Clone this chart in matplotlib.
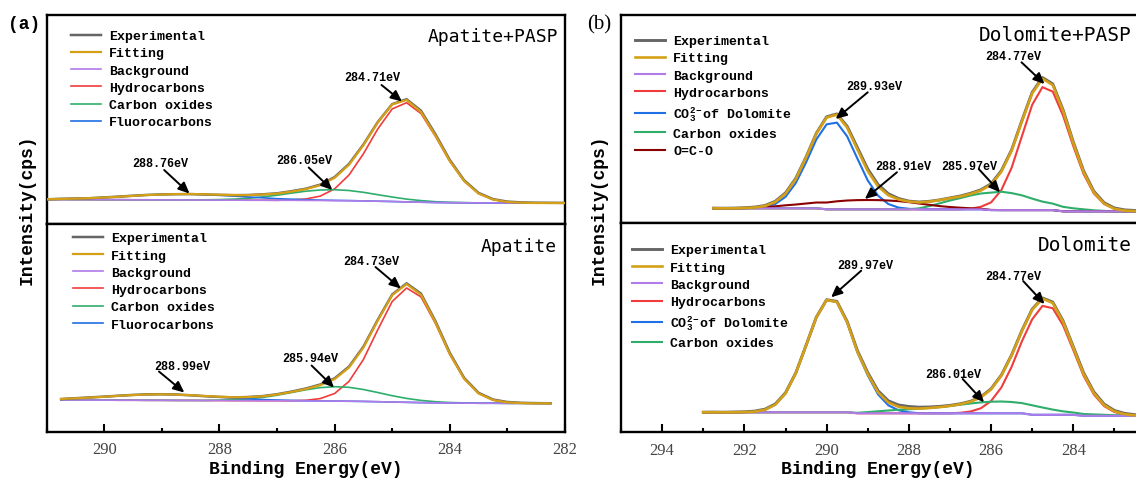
import numpy as np
import matplotlib
matplotlib.use("Agg")
import matplotlib.pyplot as plt
from matplotlib.ticker import MultipleLocator

plt.rcParams['font.family'] = ['Liberation Mono', 'DejaVu Sans']
plt.rcParams['mathtext.fontset'] = 'custom'
plt.rcParams['mathtext.rm'] = 'Liberation Mono:bold'
plt.rcParams['mathtext.it'] = 'Liberation Mono:bold'
plt.rcParams['mathtext.bf'] = 'Liberation Mono:bold'

# ---- (a) Apatite + PASP ----
E_a1 = [291.0, 290.75, 290.5, 290.25, 290.0, 289.75, 289.5, 289.25, 289.0, 288.75,
        288.5, 288.25, 288.0, 287.75, 287.5, 287.25, 287.0, 286.75, 286.5, 286.25,
        286.0, 285.75, 285.5, 285.25, 285.0, 284.75, 284.5, 284.25, 284.0, 283.75,
        283.5, 283.25, 283.0, 282.75, 282.5, 282.25, 282.0]
exp_a1 = [24.2, 24.7, 25.0, 25.3, 26.1, 26.9, 27.8, 28.6, 29.1, 29.3,
          29.4, 29.0, 28.6, 28.3, 28.5, 29.2, 30.2, 32.3, 34.8, 38.9,
          46.4, 59.6, 79.0, 101.5, 119.4, 124.3, 112.8, 89.4, 63.6, 43.2,
          30.6, 24.4, 21.9, 21.1, 20.8, 20.7, 20.6]
fit_a1 = [24.3, 24.6, 24.9, 25.4, 26.0, 26.8, 27.6, 28.5, 29.0, 29.4,
          29.5, 29.2, 28.8, 28.5, 28.4, 29.0, 29.9, 31.9, 34.4, 38.3,
          45.7, 58.8, 78.3, 101.1, 119.1, 123.6, 111.6, 88.1, 62.6, 42.5,
          30.0, 24.0, 21.5, 20.8, 20.5, 20.5, 20.5]
bg_a1 = [24.0, 24.0, 23.9, 23.9, 23.8, 23.8, 23.7, 23.7, 23.6, 23.6,
         23.5, 23.5, 23.4, 23.4, 23.3, 23.3, 23.2, 23.2, 23.1, 23.0,
         22.9, 22.8, 22.6, 22.3, 22.0, 21.6, 21.3, 21.0, 20.8, 20.7,
         20.6, 20.6, 20.5, 20.5, 20.5, 20.5, 20.5]
hyd_a1 = [24.0, 24.0, 23.9, 23.9, 23.8, 23.8, 23.7, 23.7, 23.6, 23.6,
          23.5, 23.5, 23.4, 23.4, 23.3, 23.3, 23.2, 23.6, 24.5, 27.4,
          34.6, 48.5, 69.7, 94.6, 114.6, 120.8, 110.0, 87.3, 62.2, 42.3,
          30.0, 24.0, 21.5, 20.8, 20.5, 20.5, 20.5]
co_a1 = [24.0, 24.0, 23.9, 23.9, 23.8, 23.8, 23.7, 23.7, 23.6, 23.6,
         23.6, 23.7, 23.9, 24.4, 25.2, 26.6, 28.3, 30.4, 32.3, 33.5,
         33.8, 33.0, 31.2, 28.8, 26.5, 24.4, 22.9, 21.8, 21.2, 20.9,
         20.6, 20.6, 20.5, 20.5, 20.5, 20.5, 20.5]
fc_a1 = [24.3, 24.6, 24.9, 25.4, 26.0, 26.8, 27.6, 28.5, 29.0, 29.4,
         29.4, 29.0, 28.3, 27.5, 26.5, 25.7, 24.8, 24.3, 23.8, 23.4,
         23.1, 22.9, 22.6, 22.3, 22.0, 21.6, 21.3, 21.0, 20.8, 20.7,
         20.6, 20.6, 20.5, 20.5, 20.5, 20.5, 20.5]

# ---- (a) Apatite ----
E_a2 = [290.75, 290.5, 290.25, 290.0, 289.75, 289.5, 289.25, 289.0, 288.75, 288.5,
        288.25, 288.0, 287.75, 287.5, 287.25, 287.0, 286.75, 286.5, 286.25, 286.0,
        285.75, 285.5, 285.25, 285.0, 284.75, 284.5, 284.25, 284.0, 283.75, 283.5,
        283.25, 283.0, 282.75, 282.5, 282.25]
exp_a2 = [32.6, 33.5, 34.3, 35.1, 36.0, 36.8, 37.4, 37.5, 37.2, 36.4,
          35.5, 34.8, 34.3, 34.7, 35.6, 37.5, 40.1, 43.2, 47.2, 53.4,
          65.1, 85.0, 112.0, 137.2, 148.4, 138.1, 110.7, 78.9, 53.8, 38.9,
          32.2, 29.7, 28.9, 28.6, 28.4]
fit_a2 = [32.8, 33.4, 34.1, 35.0, 35.9, 36.7, 37.2, 37.4, 37.1, 36.5,
          35.7, 35.0, 34.4, 34.6, 35.4, 37.2, 39.7, 42.7, 46.6, 52.6,
          64.2, 84.1, 111.2, 136.5, 147.6, 137.0, 109.5, 77.8, 53.0, 38.3,
          31.7, 29.3, 28.6, 28.4, 28.4]
bg_a2 = [31.7, 31.7, 31.6, 31.6, 31.5, 31.5, 31.4, 31.4, 31.3, 31.3,
         31.2, 31.2, 31.1, 31.1, 31.0, 31.0, 30.9, 30.8, 30.7, 30.6,
         30.5, 30.3, 30.0, 29.7, 29.4, 29.1, 28.9, 28.7, 28.6, 28.5,
         28.5, 28.4, 28.4, 28.4, 28.4]
hyd_a2 = [31.7, 31.7, 31.6, 31.6, 31.5, 31.5, 31.4, 31.4, 31.3, 31.3,
          31.2, 31.2, 31.1, 31.1, 31.0, 31.0, 31.0, 31.4, 33.1, 38.2,
          50.3, 72.2, 102.0, 130.2, 143.7, 134.8, 108.4, 77.3, 52.8, 38.3,
          31.7, 29.3, 28.6, 28.4, 28.4]
co_a2 = [31.7, 31.7, 31.6, 31.6, 31.5, 31.5, 31.4, 31.4, 31.3, 31.3,
         31.3, 31.6, 31.9, 32.9, 34.3, 36.5, 39.2, 41.9, 44.1, 45.0,
         44.4, 42.2, 39.2, 36.0, 33.3, 31.3, 30.0, 29.2, 28.8, 28.5,
         28.5, 28.4, 28.4, 28.4, 28.4]
fc_a2 = [32.8, 33.4, 34.1, 35.0, 35.9, 36.7, 37.2, 37.4, 37.1, 36.5,
         35.6, 34.6, 33.6, 32.8, 32.1, 31.7, 31.3, 31.0, 30.8, 30.6,
         30.5, 30.3, 30.0, 29.7, 29.4, 29.1, 28.9, 28.7, 28.6, 28.5,
         28.5, 28.4, 28.4, 28.4, 28.4]

# ---- (b) Dolomite + PASP ----
E_b1 = [292.75, 292.5, 292.25, 292.0, 291.75, 291.5, 291.25, 291.0, 290.75, 290.5,
        290.25, 290.0, 289.75, 289.5, 289.25, 289.0, 288.75, 288.5, 288.25, 288.0,
        287.75, 287.5, 287.25, 287.0, 286.75, 286.5, 286.25, 286.0, 285.75, 285.5,
        285.25, 285.0, 284.75, 284.5, 284.25, 284.0, 283.75, 283.5, 283.25, 283.0,
        282.75, 282.5]
exp_b1 = [15.2, 15.1, 15.2, 15.6, 16.2, 17.8, 22.0, 30.4, 45.0, 66.3,
          90.1, 106.5, 109.4, 97.0, 75.6, 54.3, 38.8, 29.6, 24.8, 22.2,
          21.3, 22.0, 23.4, 25.4, 27.3, 30.0, 33.5, 39.5, 52.6, 73.5,
          102.8, 131.0, 145.8, 139.4, 113.6, 81.4, 52.5, 32.0, 20.6, 15.3,
          13.4, 12.8]
fit_b1 = [15.0, 15.0, 15.0, 15.3, 15.8, 17.3, 21.3, 29.5, 44.1, 65.7,
          89.6, 105.8, 108.7, 95.7, 73.8, 52.2, 36.9, 28.1, 23.9, 21.7,
          20.9, 21.7, 23.2, 25.1, 26.8, 29.4, 32.8, 38.6, 51.6, 72.6,
          101.9, 130.0, 144.7, 138.2, 112.3, 80.2, 51.3, 30.9, 19.7, 14.5,
          12.7, 12.2]
bg_b1 = [15.0, 15.0, 15.0, 15.0, 15.0, 15.0, 15.0, 15.0, 15.0, 15.0,
         15.0, 14.0, 14.0, 14.0, 14.0, 14.0, 14.0, 14.0, 14.0, 14.0,
         14.0, 14.0, 14.0, 14.0, 14.0, 14.0, 14.0, 13.2, 13.2, 13.2,
         13.2, 13.2, 13.2, 13.2, 12.0, 12.0, 12.0, 12.0, 12.0, 12.0,
         12.0, 12.0]
hyd_b1 = [15.0, 15.0, 15.0, 15.0, 15.0, 15.0, 15.0, 15.0, 15.0, 15.0,
          15.0, 14.0, 14.0, 14.0, 14.0, 14.0, 14.0, 14.0, 14.0, 14.0,
          14.0, 14.0, 14.0, 14.0, 14.0, 14.6, 16.5, 20.9, 33.2, 55.6,
          87.1, 118.5, 136.2, 131.7, 107.8, 77.2, 49.3, 29.9, 19.3, 14.5,
          12.7, 12.2]
co3_b1 = [15.0, 15.0, 15.0, 15.1, 15.3, 16.3, 19.3, 26.5, 40.3, 60.9,
          83.8, 99.0, 100.7, 86.9, 64.6, 42.9, 27.7, 19.3, 15.7, 14.5,
          14.1, 14.0, 14.0, 14.0, 14.0, 14.0, 14.0, 13.2, 13.2, 13.2,
          13.2, 13.2, 13.2, 13.2, 12.0, 12.0, 12.0, 12.0, 12.0, 12.0,
          12.0, 12.0]
co_b1 = [15.0, 15.0, 15.0, 15.0, 15.0, 15.0, 15.0, 15.0, 15.0, 15.0,
         15.0, 14.0, 14.0, 14.0, 14.0, 14.0, 14.0, 14.0, 14.0, 14.0,
         15.0, 17.2, 20.0, 22.8, 25.2, 27.8, 29.8, 30.7, 31.6, 30.2,
         28.0, 24.7, 21.7, 19.7, 16.5, 15.0, 14.0, 13.0, 12.4, 12.0,
         12.0, 12.0]
oco_b1 = [15.0, 15.0, 15.0, 15.2, 15.5, 16.0, 17.0, 18.0, 18.8, 19.8,
          20.8, 20.8, 22.0, 22.8, 23.2, 23.3, 23.2, 22.8, 22.2, 21.2,
          19.8, 18.5, 17.2, 16.3, 15.6, 15.0, 14.5, 13.4, 13.2, 13.2,
          13.2, 13.2, 13.2, 13.2, 12.0, 12.0, 12.0, 12.0, 12.0, 12.0,
          12.0, 12.0]

# ---- (b) Dolomite ----
E_b2 = [293.0, 292.75, 292.5, 292.25, 292.0, 291.75, 291.5, 291.25, 291.0, 290.75,
        290.5, 290.25, 290.0, 289.75, 289.5, 289.25, 289.0, 288.75, 288.5, 288.25,
        288.0, 287.75, 287.5, 287.25, 287.0, 286.75, 286.5, 286.25, 286.0, 285.75,
        285.5, 285.25, 285.0, 284.75, 284.5, 284.25, 284.0, 283.75, 283.5, 283.25,
        283.0, 282.75, 282.5]
exp_b2 = [20.1, 20.2, 20.1, 20.3, 20.5, 21.2, 23.1, 28.3, 39.5, 59.4,
          87.0, 115.2, 132.6, 130.9, 110.8, 81.6, 59.7, 41.6, 31.5, 27.3,
          25.8, 25.1, 25.3, 25.9, 26.9, 28.5, 31.0, 35.4, 43.5, 57.2,
          77.4, 101.9, 123.2, 134.4, 130.2, 111.6, 85.6, 59.6, 40.4, 28.2,
          21.8, 18.9, 17.6]
fit_b2 = [20.0, 20.0, 20.0, 20.0, 20.2, 20.7, 22.5, 27.6, 38.9, 59.0,
          86.8, 115.0, 132.3, 130.3, 109.9, 80.4, 58.2, 40.0, 29.8, 25.5,
          24.0, 23.7, 24.3, 25.2, 26.4, 28.1, 30.6, 34.9, 42.9, 56.6,
          76.8, 101.2, 122.5, 133.7, 129.3, 110.6, 84.5, 58.4, 39.2, 27.2,
          20.9, 18.1, 17.0]
bg_b2 = [20.0, 20.0, 20.0, 20.0, 20.0, 20.0, 20.0, 20.0, 20.0, 20.0,
         20.0, 20.0, 20.0, 20.0, 20.0, 19.0, 19.0, 19.0, 19.0, 19.0,
         19.0, 19.0, 19.0, 19.0, 19.0, 19.0, 19.0, 19.0, 19.0, 19.0,
         19.0, 19.0, 17.5, 17.5, 17.5, 17.5, 17.5, 16.5, 16.5, 16.5,
         16.5, 16.5, 16.5]
hyd_b2 = [20.0, 20.0, 20.0, 20.0, 20.0, 20.0, 20.0, 20.0, 20.0, 20.0,
          20.0, 20.0, 20.0, 20.0, 20.0, 19.0, 19.0, 19.0, 19.0, 19.0,
          19.0, 19.0, 19.0, 19.0, 19.0, 19.5, 20.8, 24.0, 31.3, 44.8,
          65.5, 91.0, 113.0, 126.4, 124.1, 107.1, 82.2, 56.6, 37.8, 26.2,
          20.3, 17.8, 16.9]
co3_b2 = [20.0, 20.0, 20.0, 20.0, 20.2, 20.7, 22.5, 27.6, 38.9, 59.0,
          86.8, 115.0, 132.3, 130.3, 109.9, 79.9, 57.0, 38.0, 27.0, 22.0,
          20.0, 19.1, 19.0, 19.0, 19.0, 19.0, 19.0, 19.0, 19.0, 19.0,
          19.0, 19.0, 17.5, 17.5, 17.5, 17.5, 17.5, 16.5, 16.5, 16.5,
          16.5, 16.5, 16.5]
co_b2 = [20.0, 20.0, 20.0, 20.0, 20.0, 20.0, 20.0, 20.0, 20.0, 20.0,
         20.0, 20.0, 20.0, 20.0, 20.0, 19.5, 20.2, 21.0, 21.8, 22.5,
         23.0, 23.6, 24.3, 25.2, 26.3, 27.6, 28.8, 29.9, 30.6, 30.8,
         30.3, 29.2, 27.0, 24.8, 22.7, 21.0, 19.8, 18.3, 17.9, 17.5,
         17.1, 16.8, 16.6]

peaks_a1 = ['288.76eV', '286.05eV', '284.71eV']
peaks_a2 = ['288.99eV', '285.94eV', '284.73eV']
peaks_b1 = ['289.93eV', '288.91eV', '285.97eV', '284.77eV']
peaks_b2 = ['289.97eV', '286.01eV', '284.77eV']

c_exp = '#666666'
c_fit = '#d4a017'
c_bg = '#b07ce8'
c_hyd = '#f03c3c'
c_co = '#2fae6b'
c_blue = '#1f6fe5'
c_oco = '#8b0000'

fig = plt.figure(figsize=(11.36, 4.85), dpi=100)

ax_a1 = fig.add_axes([0.0411, 0.5371, 0.4562, 0.4305])
ax_a2 = fig.add_axes([0.0411, 0.1078, 0.4562, 0.4293])
ax_b1 = fig.add_axes([0.5467, 0.5375, 0.4542, 0.4301])
ax_b2 = fig.add_axes([0.5467, 0.1066, 0.4542, 0.4309])


def draw(ax, E, exp, fit, bg, comps, lw):
    h_exp, = ax.plot(E, exp, color=c_exp, lw=lw + 0.6, zorder=4)
    h_fit, = ax.plot(E, fit, color=c_fit, lw=lw + 0.4, zorder=5)
    h_bg, = ax.plot(E, bg, color=c_bg, lw=lw, zorder=3)
    handles = [h_exp, h_fit, h_bg]
    labels = ['Experimental', 'Fitting', 'Background']
    for vals, lab, col in comps:
        h, = ax.plot(E, vals, color=col, lw=lw, zorder=2)
        handles.append(h)
        labels.append(lab)
    return handles, labels


def style(ax, xlim, ymax, bottom):
    ax.set_xlim(*xlim)
    ax.set_ylim(0, ymax)
    ax.set_yticks([])
    for s in ax.spines.values():
        s.set_linewidth(1.7)
    ax.xaxis.set_major_locator(MultipleLocator(2))
    ax.xaxis.set_minor_locator(MultipleLocator(1))
    if bottom:
        ax.tick_params(axis='x', which='major', direction='in', length=6, width=1.5,
                       labelsize=12, pad=7, labelcolor='#444444',
                       labelfontfamily='Liberation Serif')
        ax.tick_params(axis='x', which='minor', direction='in', length=3, width=1.5)
    else:
        ax.tick_params(axis='x', which='both', bottom=False, labelbottom=False)


def legend(ax, handles, labels, x, y):
    ax.legend(handles, labels, loc='upper left', bbox_to_anchor=(x, y), frameon=False,
              prop={'family': 'Liberation Mono', 'weight': 'bold', 'size': 9.5},
              handlelength=2.3, handletextpad=0.6, labelspacing=0.38,
              borderpad=0, borderaxespad=0)


def mark(ax, text, txy, start, tip):
    ax.text(txy[0], txy[1], text, ha='center', va='center', fontsize=8.5,
            fontweight='bold', zorder=6)
    ax.annotate('', xy=tip, xytext=start, zorder=6,
                arrowprops=dict(arrowstyle='-|>,head_length=0.55,head_width=0.25',
                                color='k', lw=1.4, shrinkA=0, shrinkB=0,
                                mutation_scale=12))


# (a) top
hs, ls = draw(ax_a1, E_a1, exp_a1, fit_a1, bg_a1,
              [(hyd_a1, 'Hydrocarbons', c_hyd), (co_a1, 'Carbon oxides', c_co),
               (fc_a1, 'Fluorocarbons', c_blue)], 1.2)
style(ax_a1, (291, 282), 208.8, False)
legend(ax_a1, hs, ls, 0.046, 0.927)
ax_a1.text(0.9865, 0.898, 'Apatite+PASP', transform=ax_a1.transAxes, ha='right',
           va='center', fontsize=13, family='DejaVu Sans Mono')
mark(ax_a1, peaks_a1[0], (289.02, 60.5), (288.96, 53.5), (288.52, 30))
mark(ax_a1, peaks_a1[1], (286.53, 64), (286.45, 56), (286.04, 33.5))
mark(ax_a1, peaks_a1[2], (285.34, 146.5), (285.185, 138.5), (284.83, 122))

# (a) bottom
hs, ls = draw(ax_a2, E_a2, exp_a2, fit_a2, bg_a2,
              [(hyd_a2, 'Hydrocarbons', c_hyd), (co_a2, 'Carbon oxides', c_co),
               (fc_a2, 'Fluorocarbons', c_blue)], 1.2)
style(ax_a2, (291, 282), 208.2, True)
legend(ax_a2, hs, ls, 0.05, 0.959)
ax_a2.text(0.985, 0.893, 'Apatite', transform=ax_a2.transAxes, ha='right',
           va='center', fontsize=13, family='DejaVu Sans Mono')
mark(ax_a2, peaks_a2[0], (288.65, 65.7), (289.05, 60.2), (288.61, 39.2))
mark(ax_a2, peaks_a2[1], (286.43, 73.7), (286.40, 66.2), (286.01, 44.2))
mark(ax_a2, peaks_a2[2], (285.36, 170.7), (285.29, 164.7), (284.85, 143.2))

# (b) top
co3_label = r'CO$_{\mathrm{3}}^{\mathrm{2-}}$of Dolomite'
hs, ls = draw(ax_b1, E_b1, exp_b1, fit_b1, bg_b1,
              [(hyd_b1, 'Hydrocarbons', c_hyd), (co3_b1, co3_label, c_blue),
               (co_b1, 'Carbon oxides', c_co), (oco_b1, 'O=C-O', c_oco)], 1.5)
style(ax_b1, (295, 282.45), 208.6, False)
legend(ax_b1, hs, ls, 0.027, 0.903)
ax_b1.text(0.9895, 0.9075, 'Dolomite+PASP', transform=ax_b1.transAxes, ha='right',
           va='center', fontsize=14, family='DejaVu Sans Mono')
mark(ax_b1, peaks_b1[0], (288.84, 137), (289.0, 131), (289.78, 104.3))
mark(ax_b1, peaks_b1[1], (288.14, 57.6), (288.29, 51), (289.07, 24.3))
mark(ax_b1, peaks_b1[2], (286.54, 57.6), (286.30, 54.3), (285.78, 31))
mark(ax_b1, peaks_b1[3], (285.47, 167.6), (285.26, 161), (284.70, 139.3))

# (b) bottom
hs, ls = draw(ax_b2, E_b2, exp_b2, fit_b2, bg_b2,
              [(hyd_b2, 'Hydrocarbons', c_hyd), (co3_b2, co3_label, c_blue),
               (co_b2, 'Carbon oxides', c_co)], 1.5)
style(ax_b2, (295, 282.45), 209.0, True)
legend(ax_b2, hs, ls, 0.0205, 0.90)
ax_b2.text(0.9895, 0.901, 'Dolomite', transform=ax_b2.transAxes, ha='right',
           va='center', fontsize=14, family='DejaVu Sans Mono')
mark(ax_b2, peaks_b2[0], (289.05, 167.3), (289.16, 161.6), (289.89, 135))
mark(ax_b2, peaks_b2[1], (286.93, 58.3), (286.69, 53.3), (286.17, 30))
mark(ax_b2, peaks_b2[2], (285.47, 156), (285.22, 151.3), (284.70, 128.3))

# panel labels and shared axis titles
fig.text(0.007, 0.95, '(a)', fontsize=13, fontweight='bold', va='center')
fig.text(0.517, 0.948, '(b)', fontsize=15, family='Liberation Serif', va='center')
for xc in [0.0238, 0.5271]:
    fig.text(xc, 0.567, 'Intensity(cps)', rotation=90, ha='center', va='center',
             fontsize=13, fontweight='bold')
fig.text(306 / 1136, 1 - 470 / 485, 'Binding Energy(eV)', ha='center', va='center',
         fontsize=13, fontweight='bold')
fig.text(878 / 1136, 1 - 470 / 485, 'Binding Energy(eV)', ha='center', va='center',
         fontsize=13, fontweight='bold')

fig.savefig('out.png', dpi=100)
